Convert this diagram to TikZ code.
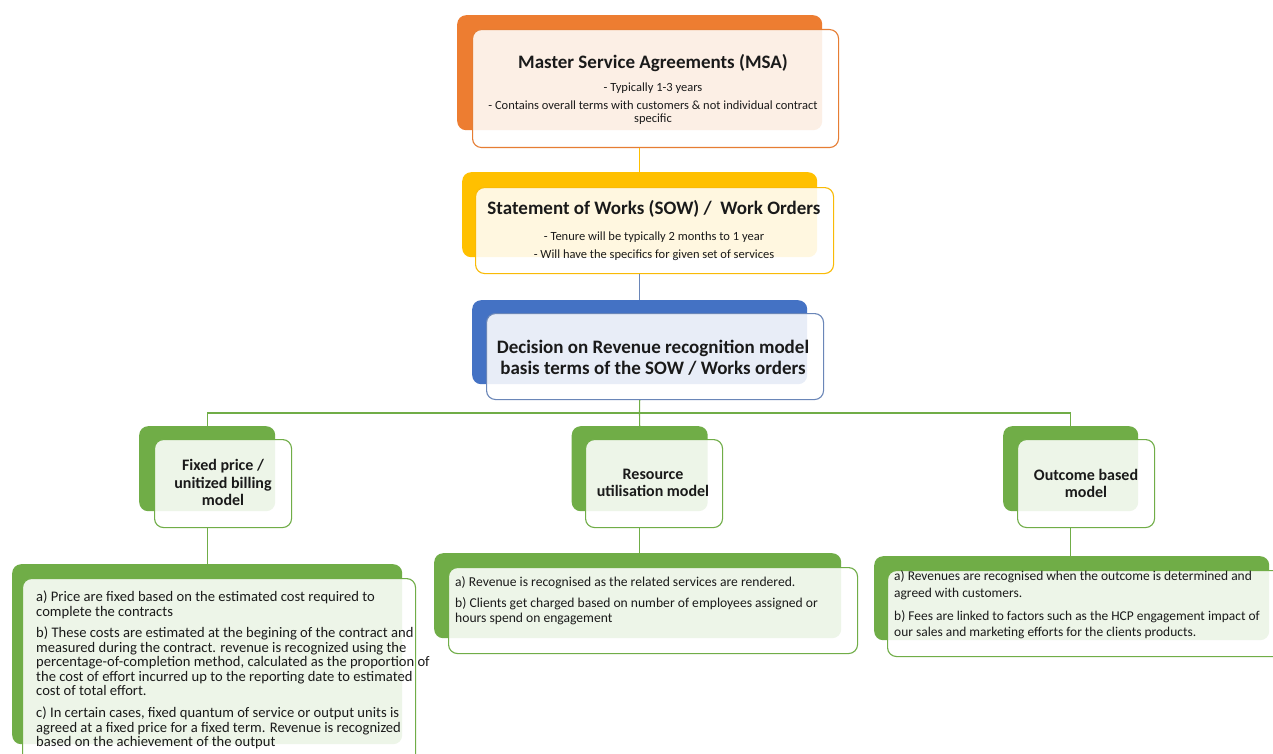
\documentclass[tikz,border=0pt]{standalone}
\usepackage{fontspec}
\setmainfont{Carlito}
\usetikzlibrary{calc}
\definecolor{cOrange}{HTML}{ED7D31}
\definecolor{cGold}{HTML}{FFC000}
\definecolor{cBlue}{HTML}{4472C4}
\definecolor{cSlate}{HTML}{6A86B8}
\definecolor{cGreen}{HTML}{70AD47}
\definecolor{cText}{HTML}{1A1A1A}
\tikzset{
  back/.style={rectangle, rounded corners=9pt, inner sep=0pt, anchor=north west, draw=none},
  front/.style={rectangle, rounded corners=9pt, inner sep=0pt, anchor=north west, fill=white, fill opacity=0.88, line width=1.1pt},
  conn/.style={line width=1.1pt},
  gconn/.style={line width=1.1pt, draw=cGreen},
  ttl/.style={font=\fontsize{19}{21}\selectfont\bfseries, text=cText, inner sep=0pt},
  sub/.style={font=\fontsize{12.5}{13}\selectfont, text=cText, inner sep=0pt, align=center},
  mdl/.style={font=\fontsize{16}{17.5}\selectfont\bfseries, text=cText, inner sep=0pt, align=center},
  body/.style={font=\fontsize{14.6}{14.6}\selectfont, text=cText, inner sep=0pt, align=left, anchor=north west},
}
\begin{document}
\begin{tikzpicture}[x=1pt,y=-1pt]
\useasboundingbox (0,0) rectangle (1273,754);
\clip (0,0) rectangle (1273,754);
\fill[white] (0,0) rectangle (1273,754);

% MSA
\node[back, fill=cOrange, minimum width=365pt, minimum height=115pt] (msab) at (457,15) {};
\node[front, draw=cOrange!85!brown, minimum width=366pt, minimum height=118pt] (msa) at (472,29) {};
\node[ttl] (msat) at (653,63.5) {Master Service Agreements (MSA)};
\node[sub, anchor=north] (msas) at (653,83) {- Typically 1-3 years\\[5pt] - Contains overall terms with customers \& not individual contract\\ specific};

% SOW
\node[back, fill=cGold, minimum width=355pt, minimum height=85pt] (sowb) at (462,172) {};
\node[front, draw=cGold!90!brown, minimum width=358pt, minimum height=86pt] (sow) at (475,187) {};
\node[ttl] (sowt) at (654,209) {Statement of Works (SOW) /\ \ Work Orders};
\node[sub, anchor=north] (sows) at (654,232) {- Tenure will be typically 2 months to 1 year\\[5pt] - Will have the specifics for given set of services};

% Decision
\node[back, fill=cBlue, minimum width=335pt, minimum height=84pt] (decb) at (472,300) {};
\node[front, draw=cSlate, minimum width=337pt, minimum height=86pt] (dec) at (486,313) {};
\node[ttl, align=center] (dect) at (653,357.5) {Decision on Revenue recognition model\\ basis terms of the SOW / Works orders};

% Models
\node[back, fill=cGreen, minimum width=136pt, minimum height=85pt] (fpb) at (139,426) {};
\node[front, draw=cGreen, minimum width=137pt, minimum height=88pt] (fp) at (154,439) {};
\node[mdl] (fpt) at (223,482.5) {Fixed price /\\ unitized billing\\ model};

\node[back, fill=cGreen, minimum width=136pt, minimum height=85pt] (rub) at (571.5,426) {};
\node[front, draw=cGreen, minimum width=137pt, minimum height=88pt] (ru) at (585,439) {};
\node[mdl] (rut) at (653,483) {Resource\\ utilisation model};

\node[back, fill=cGreen, minimum width=135pt, minimum height=85pt] (obb) at (1003,426) {};
\node[front, draw=cGreen, minimum width=137pt, minimum height=88pt] (ob) at (1017,439) {};
\node[mdl] (obt) at (1086,483.5) {Outcome based\\ model};

% Bottom detail boxes
\node[back, fill=cGreen, minimum width=390pt, minimum height=180pt] (flb) at (12,564) {};
\node[front, draw=cGreen, minimum width=393pt, minimum height=200pt] (fl) at (22,578) {};
\node[body] (flt) at (36,591) {a) Price are fixed based on the estimated cost required to\\ complete the contracts\\[6.5pt] b) These costs are estimated at the begining of the contract and\\ measured during the contract. revenue is recognized using the\\ percentage-of-completion method, calculated as the proportion of\\ the cost of effort incurred up to the reporting date to estimated\\ cost of total effort.\\[7pt] c) In certain cases, fixed quantum of service or output units is\\ agreed at a fixed price for a fixed term. Revenue is recognized\\ based on the achievement of the output};

\node[back, fill=cGreen, minimum width=407pt, minimum height=85pt] (rlb) at (434,553) {};
\node[front, draw=cGreen, minimum width=409pt, minimum height=86pt] (rl) at (448,567) {};
\node[body, font=\fontsize{13.6}{15}\selectfont] (rlt) at (455,576.5) {a) Revenue is recognised as the related services are rendered.\\[6pt] b) Clients get charged based on number of employees assigned or\\ hours spend on engagement};

\node[back, fill=cGreen, minimum width=395pt, minimum height=84pt] (olb) at (874,556) {};
\node[front, draw=cGreen, minimum width=405pt, minimum height=86pt] (ol) at (887,570) {};
\node[body, font=\fontsize{13.45}{16.5}\selectfont] (olt) at (894,570.5) {a) Revenues are recognised when the outcome is determined and\\ agreed with customers.\\[6.5pt] b) Fees are linked to factors such as the HCP engagement impact of\\ our sales and marketing efforts for the clients products.};

% Connectors
\coordinate (bus) at (639.5,413);
\draw[conn, draw=cGold] (msab.south |- msa.south) -- (sowb.north);
\draw[conn, draw=cSlate] (sowb.south |- sow.south) -- (decb.north);
\draw[gconn] (decb.south |- dec.south) -- (bus);
\draw[gconn] (fpb.north) |- (bus) -| (obb.north);
\draw[gconn] (bus) -- (rub.north);
\draw[gconn] (fpb.south |- fp.south) -- (fpb.south |- flb.north);
\draw[gconn] (rub.south |- ru.south) -- (rub.south |- rlb.north);
\draw[gconn] (obb.south |- ob.south) -- (obb.south |- olb.north);
\end{tikzpicture}
\end{document}
